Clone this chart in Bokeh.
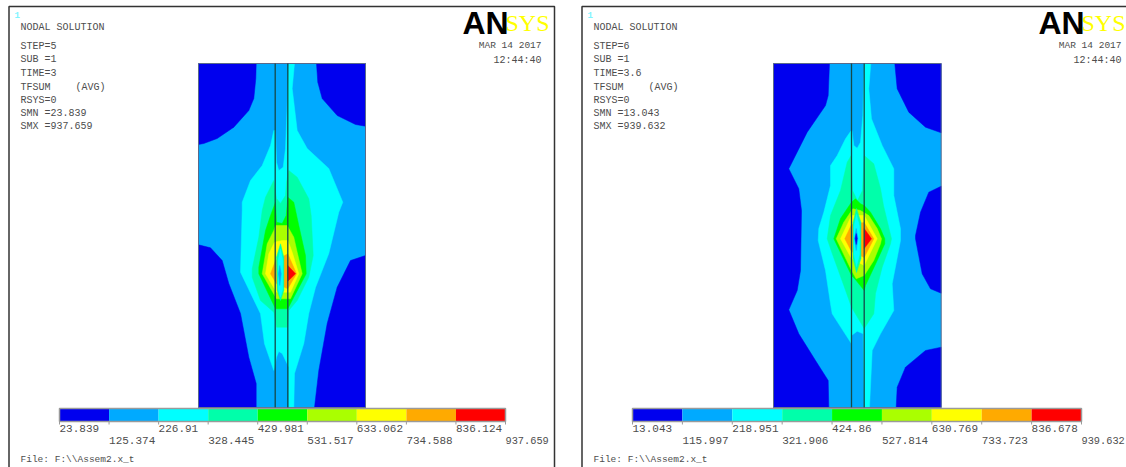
from bokeh.plotting import figure
from bokeh.models import Range1d
from bokeh.core.properties import value
from bokeh.embed import file_html
from bokeh.resources import INLINE

# --- legend levels and texts
levels_l = [23.839, 125.374, 226.91, 328.445, 429.981, 531.517, 633.062, 734.588, 836.124, 937.659]
levels_r = [13.043, 115.997, 218.951, 321.906, 424.86, 527.814, 630.769, 733.723, 836.678, 939.632]
labels_l = ["23.839", "125.374", "226.91", "328.445", "429.981", "531.517", "633.062", "734.588", "836.124", "937.659"]
labels_r = ["13.043", "115.997", "218.951", "321.906", "424.86", "527.814", "630.769", "733.723", "836.678", "939.632"]
band_colors = ["#0000ee", "#00aaff", "#00ffff", "#00ffaa", "#00ff00", "#aaff00", "#ffff00", "#ffaa00", "#ff0000"]
info_l = ["STEP=5", "SUB =1", "TIME=3", "TFSUM", "RSYS=0", "SMN =23.839", "SMX =937.659"]
info_r = ["STEP=6", "SUB =1", "TIME=3.6", "TFSUM", "RSYS=0", "SMN =13.043", "SMX =939.632"]

# --- contour outlines (x, y) of the two nodal solutions
l_blue_tl = [(198,63),(255.7,63),(255.3,78),(253.3,98),(248.3,110),(233.3,126.7),(216.7,138),(203.3,143),(198,144)]
l_blue_tr = [(316,63),(317.3,81.7),(321.7,98),(336.7,115),(355,124),(365,125.7),(365,63)]
l_blue_bl = [(198,244.3),(210,247.3),(221.7,260),(228.3,283),(240,313),(248.3,356.7),(255.7,383),(255.7,407),(198,407)]
l_blue_br = [(365,255),(350,260),(336.7,286.7),(326.7,323),(318.3,370),(314,407),(365,407)]
l_cyan = [(288.3,63),(294,63),(291.7,88),(296.7,130),(306.7,148),(328.3,168),(342.3,201.7),(338.3,211.7),(328.3,253),
          (315,287),(308.3,313),(303.3,343),(294,373),(293.3,407),(288.3,407),(288.3,366.7),(281.7,353),(278.3,351),
          (276,356.7),(273.3,370),(264,343.3),(260,313.3),(240,271.7),(241.7,210),(241.7,201.7),(250,180),(261.7,165),
          (270,145),(273.3,130),(275,130),(276,161.7),(278.3,170),(282.7,166.7),(285,148),(286.7,105),(288.3,63)]
l_teal = [(288.3,170),(296.7,176.7),(308.3,198.3),(310.7,215),(312.7,255),(308.3,276.7),(296.7,300),(288.3,310),(287.3,326.7),
          (276,326.7),(273.3,311.7),(260,300),(251.7,276.7),(251.7,268.3),(258.3,236.7),(261.7,210),(265,196.7),(273.3,180),
          (276,198),(280,203),(285,195),(286,181.7)]
l_green = [(287.3,196.7),(293.3,201.7),(298.3,225),(305,255),(305.7,273.3),(293.3,296.7),(287.3,308.3),(275,308.3),(258.3,273.3),
           (258.3,266.7),(265,230),(270,215),(275,201.7),(276,221.7),(281.7,223),(285.7,215)]
l_lime = [(275,225),(286.7,225),(293.3,236.7),(296.7,251.7),(301.7,273.3),(290,298.3),(276,298.3),(261.7,273.3),(266.7,243.3),(273.3,230)]
l_yellow = [(281.7,240),(287.3,240),(291.7,251.7),(298.3,273.3),(290,291.7),(276,291.7),(265,273.3),(268.3,253.3),(274,241.7)]
l_orange = [(287.3,253.3),(296,273.3),(287.3,288.3),(276,283.3),(270,273.3),(275,260)]
l_red = [(287.3,265),(295,273.3),(287.3,280.7)]
l_lens_teal = [(280,243.3),(283.3,256.7),(283.3,290),(280,300),(276.7,290),(276,256.7)]
l_lens_cyan = [(280,248.3),(282.3,260),(282.3,288.3),(280,296.7),(277.7,288.3),(277.7,260)]
l_lens_sky = [(279.3,265),(280.7,273.3),(279.3,285),(278,273.3)]

r_blue_l = [(773,63),(829,63),(827.7,95),(825,105),(806.7,131.7),(788.3,168.3),(798.3,188.3),(801,210),(800,270),(796.7,290),
            (788.3,309.3),(798.3,333.3),(815,360),(827.7,380),(828.3,407),(773,407)]
r_blue_tr = [(894.3,63),(896.7,88.3),(908.3,111.7),(925,126.7),(940.7,132.3),(940.7,63)]
r_blue_mr = [(940.7,185.7),(928.3,191.7),(920,211.7),(915,235),(915,238.3),(921.7,273.3),(930,288.3),(940.7,292.7)]
r_blue_br = [(940.7,346.7),(925,350),(905,366.7),(896.7,386.7),(895.7,407),(940.7,407)]
r_cyan = [(864,63),(870.3,63),(868.3,88.3),(871,118.3),(881.7,145),(893.3,168.3),(893.3,195),(900,228.3),(900,240),(891.7,283.3),
          (893.3,310),(880,333.3),(871.7,350),(869,407),(863.7,407),(862.7,333.3),(856.7,330.7),(851,335),(851,343.3),(831.7,313.3),
          (830,303.3),(825,270),(817.7,240),(818.3,228),(823.3,211.7),(830,185),(830,165),(836.7,155),(845,138.3),(850.7,130),
          (851.5,130),(853.3,145),(856.7,147.7),(860,141.7),(862.3,115),(863.7,63)]
r_teal = [(863.7,155),(873.3,163.3),(880,188),(883,205),(891,238.3),(890,243.3),(881.7,266.7),(875,293),(873.3,313.3),(863.7,328),
          (851,306.7),(843.3,285),(831.7,253),(826.7,238.3),(830,215),(840,190),(846.7,161.7),(850.7,155),(852,190),(857,200),(862,190)]
r_green = [(855,198.3),(860,203.3),(863.7,205),(870,211.7),(880,228.3),(884.3,238.3),(884.3,243.3),(876.7,260),(865,285),(863.7,290),
           (855.7,280),(851,275),(833.3,238.3),(840,218),(851,201.7)]
r_lime = [(852.3,208.3),(860,210),(868.3,215),(876.7,228),(881,238.3),(880,243.3),(873.3,260),(863.7,275),(855.7,278.3),(851,270),
          (835.7,238.3),(843.3,221.7)]
r_yellow = [(851,215),(863.7,215),(876.7,238.3),(863.7,265),(851,258),(840,238.3)]
r_orange = [(851,224),(863.7,222),(873.3,238.3),(863.7,257),(851,251),(844.3,238.3)]
r_red = [(863.7,228),(871,238.3),(863.7,248)]
r_lens_teal = [(856,208),(860.5,222),(860.5,258),(856,272),(852.5,258),(852.5,222)]
r_lens_cyan = [(856,214),(859,226),(859,254),(856,266),(853.5,254),(853.5,226)]
r_lens_sky = [(855.7,228),(857.5,238),(855.7,250),(854,238)]
r_lens_blue = [(855.7,233),(856.7,238),(855.7,244),(854.7,238)]

W, H = 1126, 467
p = figure(width=W, height=H, x_range=Range1d(0, W), y_range=Range1d(H, 0), output_backend="svg",
           toolbar_location=None, min_border=0, outline_line_color=None, margin=(0, 0, 0, 0))
p.axis.visible = False
p.grid.visible = False
p.background_fill_color = "#ffffff"


def value_range(vals, px0, px1):
    k = (vals[-1] - vals[0]) / (px1 - px0)
    return Range1d(vals[0] - px0 * k, vals[0] + (W - px0) * k)


def poly(points, color):
    p.patch([a for a, _ in points], [b for _, b in points], fill_color=color, line_color=color, line_width=0.5)


GREY = "#4d4d4d"
MONO = value("Liberation Mono")


def txt(x, y, s, size="10px", color=GREY, font=MONO, align="left", style="normal", x_range_name=None):
    kw = {"x_range_name": x_range_name} if x_range_name else {}
    p.text([x], [y], text=value(s), text_font=font, text_font_size=value(size), text_color=color, text_align=align,
           text_baseline="middle", text_font_style=style, **kw)


PANELS = [
    dict(frame=(8.5, 554), plot=(198, 365), lines=(274.7, 287.3), tx=20, bar="barL", levels=levels_l, labels=labels_l,
         barpx=(59, 505), info=info_l, avg=75, an=462, sys=505, date=541,
         blues=[l_blue_tl, l_blue_tr, l_blue_bl, l_blue_br],
         bands=[(l_cyan, 2), (l_teal, 3), (l_green, 4), (l_lime, 5), (l_yellow, 6), (l_orange, 7), (l_red, 8),
                (l_lens_teal, 3), (l_lens_cyan, 2), (l_lens_sky, 1)]),
    dict(frame=(581.5, 1135), plot=(773, 940.7), lines=(851, 863.7), tx=593, bar="barR", levels=levels_r, labels=labels_r,
         barpx=(632, 1081), info=info_r, avg=648, an=1038, sys=1081, date=1121,
         blues=[r_blue_l, r_blue_tr, r_blue_mr, r_blue_br],
         bands=[(r_cyan, 2), (r_teal, 3), (r_green, 4), (r_lime, 5), (r_yellow, 6), (r_orange, 7), (r_red, 8),
                (r_lens_teal, 3), (r_lens_cyan, 2), (r_lens_sky, 1), (r_lens_blue, 0)]),
]

for P in PANELS:
    x0, x1 = P["frame"]
    p.line([x0, x0, x1, x1], [H + 5, 6, 6, H + 5], line_color="#333333", line_width=1.5)

    # contour bands, painted from low to high
    a, b = P["plot"]
    p.quad(left=a, right=b, top=63, bottom=407, fill_color=band_colors[1], line_color=None)
    for blob in P["blues"]:
        poly(blob, band_colors[0])
    for pts, c in P["bands"]:
        poly(pts, band_colors[c])
    p.quad(left=a, right=b, top=63, bottom=407, fill_color=None, line_color="#5a6a8a", line_width=1)
    for lx in P["lines"]:
        p.line([lx, lx], [63, 407], line_color="#154a4a", line_width=1.3)

    # legend
    lv = P["levels"]
    p.extra_x_ranges[P["bar"]] = value_range(lv, *P["barpx"])
    p.quad(left=lv[:-1], right=lv[1:], top=408.5, bottom=420.5, fill_color=band_colors, line_color=None,
           x_range_name=P["bar"])
    p.quad(left=lv[0], right=lv[-1], top=408, bottom=421, fill_color=None, line_color="#9a9a9a", line_width=1.5,
           x_range_name=P["bar"])
    p.segment(x0=lv, x1=lv, y0=[421] * 10, y1=[424] * 10, line_color="#9a9a9a", line_width=1, x_range_name=P["bar"])
    for i, (v, s) in enumerate(zip(lv, P["labels"])):
        size = "10.3px" if i == 9 else "11px"
        txt(v, 428 if i % 2 == 0 else 440, s, size=size, x_range_name=P["bar"])

    # notes
    tx = P["tx"]
    txt(tx - 6, 14, "1", color="#7ff5ff", size="9px", style="bold")
    txt(tx, 27, "NODAL SOLUTION")
    for y, s in zip([46, 59, 73, 86.5, 100, 113, 126], P["info"]):
        txt(tx, y, s)
    txt(P["avg"], 86.5, "(AVG)")
    txt(P["date"], 45, "MAR 14 2017", align="right", size="9.5px")
    txt(P["date"], 60, "12:44:40", align="right", size="10px")
    txt(tx, 459, "File: F:\\\\Assem2.x_t", size="9.5px")
    txt(P["an"], 22, "AN", size="32px", color="#000000", font=value("Liberation Sans"), style="bold")
    txt(P["sys"], 22, "SYS", size="24px", color="#ffff00", font=value("Liberation Serif"))

open("out.html", "w").write(file_html(p, INLINE))
